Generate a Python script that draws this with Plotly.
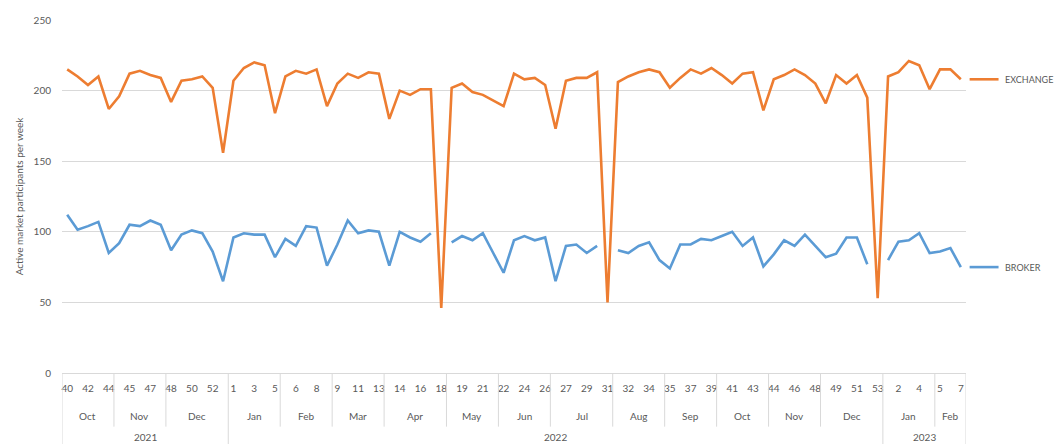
import plotly.graph_objects as go

# ISO-style week numbers, one entry per weekly bucket (weeks that straddle a
# month boundary appear once in each month)
weeks = [40, 41, 42, 43, 44,
         44, 45, 46, 47, 48,
         48, 49, 50, 51, 52, 53,
         1, 2, 3, 4, 5,
         5, 6, 7, 8, 9,
         9, 10, 11, 12, 13,
         13, 14, 15, 16, 17, 18,
         18, 19, 20, 21, 22,
         22, 23, 24, 25, 26,
         26, 27, 28, 29, 30, 31,
         31, 32, 33, 34, 35,
         35, 36, 37, 38, 39,
         40, 41, 42, 43, 44,
         44, 45, 46, 47, 48,
         48, 49, 50, 51, 52, 53,
         1, 2, 3, 4, 5,
         5, 6, 7]

months = ["Oct", "Nov", "Dec",
          "Jan", "Feb", "Mar", "Apr", "May", "Jun",
          "Jul", "Aug", "Sep", "Oct", "Nov", "Dec",
          "Jan", "Feb"]
month_sizes = [5, 5, 6,
               5, 5, 5, 6, 5, 5, 6, 5, 5, 5, 5, 6,
               5, 3]

years = ["2021", "2022", "2023"]
year_sizes = [16, 63, 8]

exchange = [215, 210, 204, 210, 187,
            196, 212, 214, 211, 209,
            192, 207, 208, 210, 202, 156,
            207, 216, 220, 218, 184,
            210, 214, 212, 215, 189,
            205, 212, 209, 213, 212,
            180, 200, 197, 201, 201, 46,
            202, 205, 199, 197, 193,
            189, 212, 208, 209, 204,
            173, 207, 209, 209, 213, 50,
            206, 210, 213, 215, 213,
            202, 209, 215, 212, 216,
            211, 205, 212, 213, 186,
            208, 211, 215, 211, 205,
            191, 211, 205, 211, 195, 53,
            210, 213, 221, 218, 201,
            215, 215, 208]

broker = [112, 101.5, 104, 107, 85,
          92, 105, 104, 108, 105,
          87, 98, 101, 99, 86, 65,
          96, 99, 98, 98, 82,
          95, 90, 104, 103, 76,
          91, 108, 99, 101, 100,
          76, 100, 96, 93, 99, None,
          92.5, 97, 94, 99, 85,
          71, 94, 97, 94, 96,
          65, 90, 91, 85, 90, None,
          87, 85, 90, 92.5, 80,
          74, 91, 91, 95, 94,
          97, 100, 90, 96, 75.5,
          84, 94, 90, 98, 90,
          82, 84.5, 96, 96, 77, None,
          80, 93, 94, 99, 85,
          86, 88.5, 75]

y_ticks = [0, 50, 100, 150, 200, 250]

ORANGE = "#ED7D31"
BLUE = "#5B9BD5"
TEXT = "#595959"
GRID = "#d9d9d9"
FONT = "Lato, 'Open Sans', sans-serif"

idx = list(range(len(weeks)))

fig = go.Figure()
fig.add_trace(go.Scatter(x=idx, y=exchange, mode="lines", name="EXCHANGE",
                         line=dict(color=ORANGE, width=2.6), connectgaps=False))
fig.add_trace(go.Scatter(x=idx, y=broker, mode="lines", name="BROKER",
                         line=dict(color=BLUE, width=2.6), connectgaps=False))

# Multi-level category axis: week labels on every other bucket,
# month and year groups below with separator lines
shapes = []
annotations = []

MONTH_Y = -0.122
YEAR_Y = -0.182
MONTH_SEP_BOTTOM = -0.152
YEAR_SEP_BOTTOM = -0.21

start = 0
for name, size in zip(months, month_sizes):
    center = start + (size - 1) / 2
    annotations.append(dict(x=center, y=MONTH_Y, xref="x", yref="paper", text=name,
                            showarrow=False, font=dict(size=10, color=TEXT, family=FONT),
                            xanchor="center", yanchor="middle"))
    start += size

year_bounds = set()
s = 0
for name, size in zip(years, year_sizes):
    center = s + (size - 1) / 2
    annotations.append(dict(x=center, y=YEAR_Y, xref="x", yref="paper", text=name,
                            showarrow=False, font=dict(size=10, color=TEXT, family=FONT),
                            xanchor="center", yanchor="middle"))
    year_bounds.add(s - 0.5)
    s += size
year_bounds.add(s - 0.5)

b = -0.5
month_bounds = [b]
for size in month_sizes:
    b += size
    month_bounds.append(b)

for xb in month_bounds:
    bottom = YEAR_SEP_BOTTOM if xb in year_bounds else MONTH_SEP_BOTTOM
    shapes.append(dict(type="line", xref="x", yref="paper", x0=xb, x1=xb,
                       y0=0, y1=bottom, line=dict(color=GRID, width=1)))

# Series names beside the last points
for name, series, color in (("EXCHANGE", exchange, ORANGE), ("BROKER", broker, BLUE)):
    last = series[-1]
    shapes.append(dict(type="line", xref="paper", yref="y", x0=1.004, x1=1.036,
                       y0=last, y1=last, line=dict(color=color, width=2.6)))
    annotations.append(dict(x=1.041, y=last, xref="paper", yref="y", text=name,
                            showarrow=False, xanchor="left", yanchor="middle",
                            font=dict(size=9, color=TEXT, family=FONT)))

fig.update_layout(
    width=1062, height=444,
    margin=dict(l=62, r=96, t=20, b=71),
    paper_bgcolor="white", plot_bgcolor="white",
    showlegend=False,
    shapes=shapes, annotations=annotations,
    font=dict(family=FONT, color=TEXT, size=10),
)
fig.update_xaxes(
    range=[-0.5, len(weeks) - 0.5],
    tickmode="array",
    tickvals=idx[::2],
    ticktext=[str(w) for w in weeks[::2]],
    ticks="", showgrid=False, zeroline=False,
    showline=True, linecolor=GRID, linewidth=1,
    tickfont=dict(size=10, color=TEXT, family=FONT),
    ticklabelstandoff=6,
)
fig.update_yaxes(
    range=[0, 250],
    tickmode="array", tickvals=y_ticks,
    showgrid=True, gridcolor=GRID, gridwidth=1, zeroline=False,
    ticks="", showline=False,
    tickfont=dict(size=10, color=TEXT, family=FONT),
    ticklabelstandoff=10,
    title=dict(text="Active market participants per week", standoff=8,
               font=dict(size=10, color=TEXT, family=FONT)),
)

fig.write_html("out.html")
